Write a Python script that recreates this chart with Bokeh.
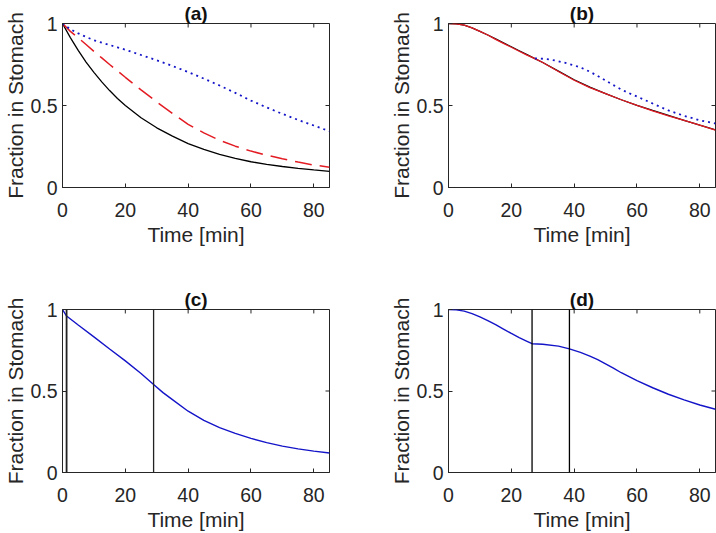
from bokeh.plotting import figure
from bokeh.layouts import gridplot
from bokeh.models import FixedTicker, Span, Range1d
from bokeh.embed import file_html
from bokeh.resources import INLINE

FONT = "Liberation Sans"
TXT = "#262626"

# ---------------- data ----------------
x_min, x_max = 0, 85
y_min, y_max = 0, 1
x_ticks = [0, 20, 40, 60, 80]
y_ticks = [0, 0.5, 1]
y_tick_labels = {0: "0", 0.5: "0.5", 1: "1"}
titles = ["(a)", "(b)", "(c)", "(d)"]
x_label = "Time [min]"
y_label = "Fraction in Stomach"

# panel (a)
t_a = [0, 2.5, 5, 7.5, 10, 12.5, 15, 17.5, 20, 25, 30, 35, 40, 45, 50, 55, 60, 65, 70, 75, 80, 85]
black_a = [1.0, 0.914, 0.836, 0.765, 0.702, 0.644, 0.591, 0.543, 0.500, 0.425, 0.364, 0.313,
           0.268, 0.232, 0.202, 0.178, 0.157, 0.141, 0.128, 0.117, 0.107, 0.098]
red_a = [1.0, 0.952, 0.913, 0.872, 0.830, 0.790, 0.750, 0.711, 0.672, 0.595, 0.522, 0.452,
         0.385, 0.333, 0.288, 0.252, 0.222, 0.197, 0.175, 0.155, 0.137, 0.124]
blue_a = [1.0, 0.965, 0.940, 0.918, 0.898, 0.883, 0.869, 0.855, 0.840, 0.808, 0.776, 0.741,
          0.704, 0.664, 0.622, 0.577, 0.530, 0.488, 0.449, 0.412, 0.378, 0.343]

# panel (b)
t_b = [0, 2.5, 5, 7.5, 10, 12.5, 15, 17.5, 20, 22.5, 25, 27.5, 30, 35, 40, 45, 50, 55, 60, 65, 70, 75, 80, 85]
black_b = [1.0, 0.998, 0.990, 0.973, 0.952, 0.930, 0.906, 0.882, 0.858, 0.834, 0.810, 0.786,
           0.762, 0.710, 0.657, 0.612, 0.572, 0.535, 0.501, 0.470, 0.440, 0.410, 0.380, 0.352]
red_b = [1.0, 0.998, 0.990, 0.973, 0.952, 0.930, 0.903, 0.879, 0.855, 0.831, 0.807, 0.786,
         0.762, 0.707, 0.654, 0.609, 0.572, 0.535, 0.501, 0.467, 0.437, 0.410, 0.380, 0.350]
t_b_dot = [27.5, 30, 32.5, 35, 37.5, 40, 42.5, 45, 47.5, 50, 52.5, 55, 57.5, 60, 65, 70, 75, 80, 85]
blue_b = [0.787, 0.785, 0.780, 0.770, 0.758, 0.745, 0.728, 0.706, 0.680, 0.652, 0.624, 0.598,
          0.575, 0.555, 0.512, 0.470, 0.437, 0.410, 0.390]

# panel (c)
t_c = [0, 1.3, 5, 10, 15, 20, 25, 29, 32, 35, 40, 45, 50, 55, 60, 65, 70, 75, 80, 85]
blue_c = [1.0, 0.960, 0.905, 0.832, 0.758, 0.685, 0.607, 0.540, 0.490, 0.447, 0.376, 0.320,
          0.275, 0.240, 0.209, 0.183, 0.162, 0.145, 0.131, 0.120]
marks_c = [1.3, 29.0]

# panel (d)
t_d = [0, 2.5, 5, 7.5, 10, 12.5, 15, 17.5, 20, 22.5, 25, 26.6, 30, 35, 38.5, 42, 45, 47.5, 50,
       52.5, 55, 60, 65, 70, 75, 80, 85]
blue_d = [1.0, 0.998, 0.990, 0.975, 0.955, 0.932, 0.907, 0.880, 0.853, 0.828, 0.805, 0.790,
          0.787, 0.775, 0.758, 0.737, 0.714, 0.692, 0.667, 0.640, 0.612, 0.563, 0.520, 0.480,
          0.446, 0.414, 0.388]
marks_d = [26.6, 38.5]

# ---------------- layout ----------------
FRAME_W = 267
FRAME_H = 164
TICK_PX = 4


def make_fig(title, bl, br, bt, bb):
    p = figure(width=bl + FRAME_W + br, height=bt + FRAME_H + bb,
               x_range=Range1d(x_min, x_max), y_range=Range1d(y_min, y_max),
               output_backend="svg", toolbar_location=None, title=title,
               min_border_left=bl, min_border_right=br, min_border_top=bt, min_border_bottom=bb)
    p.title.align = "center"
    p.title.text_font = FONT
    p.title.text_font_size = "19px"
    p.title.text_font_style = "bold"
    p.title.text_color = "#111111"
    p.title.standoff = 0
    p.title.offset = 0
    p.xgrid.visible = False
    p.ygrid.visible = False
    p.outline_line_color = TXT
    p.outline_line_alpha = 1
    p.outline_line_width = 1

    p.xaxis.ticker = FixedTicker(ticks=x_ticks)
    p.yaxis.ticker = FixedTicker(ticks=y_ticks)
    p.yaxis.major_label_overrides = y_tick_labels
    for ax in (p.xaxis, p.yaxis):
        ax.major_tick_in = TICK_PX
        ax.major_tick_out = 0
        ax.minor_tick_line_color = None
        ax.axis_line_color = TXT
        ax.major_tick_line_color = TXT
        ax.major_label_text_font = FONT
        ax.major_label_text_font_size = "19.5px"
        ax.major_label_text_color = TXT
        ax.axis_label_text_font = FONT
        ax.axis_label_text_font_size = "21px"
        ax.axis_label_text_font_style = "normal"
        ax.axis_label_text_color = TXT
    p.xaxis.axis_label = x_label
    p.yaxis.axis_label = y_label
    p.xaxis.major_label_standoff = 15
    p.xaxis.axis_label_standoff = 3
    p.yaxis.major_label_standoff = 5
    p.yaxis.axis_label_standoff = 0

    # inward tick marks on the top and right edges of the box (MATLAB style)
    ty = TICK_PX / FRAME_H * (y_max - y_min)
    tx = TICK_PX / FRAME_W * (x_max - x_min)
    p.segment(x0=x_ticks, y0=[y_max] * len(x_ticks), x1=x_ticks, y1=[y_max - ty] * len(x_ticks),
              line_color=TXT, line_width=1)
    p.segment(x0=[x_max] * len(y_ticks), y0=y_ticks, x1=[x_max - tx] * len(y_ticks), y1=y_ticks,
              line_color=TXT, line_width=1)
    return p


BLUE = "#1414c8"
RED = "#e31b23"

TOP_BT, TOP_BB = 23, 99
BOT_BT, BOT_BB = 23, 60
L_BL, L_BR = 62, 29
R_BL, R_BR = 90, 1

pa = make_fig(titles[0], L_BL, L_BR, TOP_BT, TOP_BB)
pa.line(t_a, black_a, line_color="black", line_width=1.3)
pa.line(t_a, red_a, line_color=RED, line_width=1.5, line_dash="17 8")
pa.line(t_a, blue_a, line_color=BLUE, line_width=1.8, line_dash="2 4")

pb = make_fig(titles[1], R_BL, R_BR, TOP_BT, TOP_BB)
pb.line(t_b, black_b, line_color="black", line_width=1.3)
pb.line(t_b, red_b, line_color=RED, line_width=1.3)
pb.line(t_b_dot, blue_b, line_color=BLUE, line_width=1.8, line_dash="2 4")

pc = make_fig(titles[2], L_BL, L_BR, BOT_BT, BOT_BB)
pc.line(t_c, blue_c, line_color=BLUE, line_width=1.4)
for m, w in zip(marks_c, [1.8, 1.3]):
    pc.add_layout(Span(location=m, dimension="height", line_color="#222222", line_width=w))

pd = make_fig(titles[3], R_BL, R_BR, BOT_BT, BOT_BB)
pd.line(t_d, blue_d, line_color=BLUE, line_width=1.4)
for m in marks_d:
    pd.add_layout(Span(location=m, dimension="height", line_color="black", line_width=1.3))

grid = gridplot([[pa, pb], [pc, pd]], toolbar_location=None)

open("out.html", "w").write(file_html(grid, INLINE))
